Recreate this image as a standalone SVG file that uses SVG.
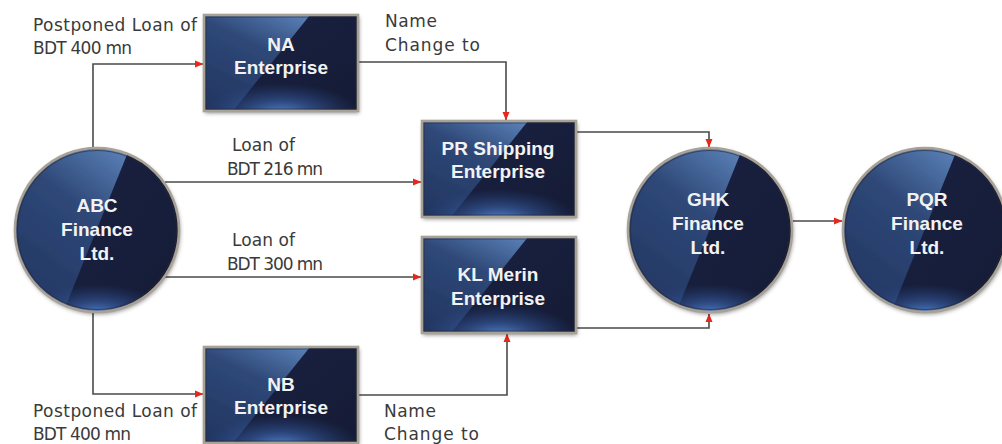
<svg xmlns="http://www.w3.org/2000/svg" xmlns:xlink="http://www.w3.org/1999/xlink" width="1002" height="444" viewBox="0 0 1002 444">
  <style>
    .lbl { font-family: "DejaVu Sans", "Liberation Sans", sans-serif; font-size: 17px; fill: #3a3a3a; }
    .nt { font-family: "Liberation Sans", Arial, sans-serif; font-weight: bold; font-size: 19px; fill: #f2f2f2; text-anchor: middle; }
    .wire { fill: none; stroke: #4a4a4a; stroke-width: 1.6; marker-end: url(#tip); }
    .rim { fill: none; stroke: #a8a196; stroke-width: 2.6; }
    .rim-in { fill: none; stroke: #2a2a30; stroke-width: 1; opacity: 0.6; }
  </style>
  <defs>
    <marker id="tip" markerUnits="userSpaceOnUse" markerWidth="9" markerHeight="8" refX="8" refY="4" orient="auto">
      <path d="M0,0.5 L8.5,4 L0,7.5 z" fill="#e8271a"/>
    </marker>
    <linearGradient id="lightFill" x1="0" y1="1" x2="0.75" y2="0">
      <stop offset="0" stop-color="#223460"/>
      <stop offset="0.6" stop-color="#2e4877"/>
      <stop offset="1" stop-color="#6088c0"/>
    </linearGradient>
    <linearGradient id="darkFill" x1="0" y1="0" x2="1" y2="1">
      <stop offset="0" stop-color="#1a2243"/>
      <stop offset="1" stop-color="#151b35"/>
    </linearGradient>
    <radialGradient id="glow" cx="0.5" cy="0.5" r="0.5">
      <stop offset="0" stop-color="#5a8fe2" stop-opacity="1"/>
      <stop offset="0.45" stop-color="#3a62a8" stop-opacity="0.6"/>
      <stop offset="1" stop-color="#2a4a8a" stop-opacity="0"/>
    </radialGradient>
    <filter id="shade" x="-15%" y="-15%" width="130%" height="135%">
      <feDropShadow dx="1" dy="2" stdDeviation="2" flood-color="#000" flood-opacity="0.45"/>
    </filter>
    <clipPath id="panelClip"><rect width="154" height="96"/></clipPath>
    <clipPath id="orbClip"><circle r="82"/></clipPath>

    <!-- rectangular enterprise panel, 154 x 96 -->
    <g id="panel">
      <g filter="url(#shade)">
        <rect width="154" height="96" fill="url(#lightFill)"/>
      </g>
      <g clip-path="url(#panelClip)">
        <polygon points="106,0 154,0 154,96 29,96" fill="url(#darkFill)"/>
        <ellipse cx="77" cy="100" rx="80" ry="32" fill="url(#glow)"/>
      </g>
      <rect x="2" y="2" width="150" height="92" class="rim-in"/>
      <rect width="154" height="96" class="rim"/>
    </g>

    <!-- round finance-company badge, centred on the origin -->
    <g id="orb">
      <g filter="url(#shade)">
        <circle r="82" fill="url(#lightFill)"/>
      </g>
      <g clip-path="url(#orbClip)">
        <polygon points="40,-100 95,-100 95,100 -41,100" fill="url(#darkFill)"/>
        <ellipse cx="0" cy="86" rx="70" ry="32" fill="url(#glow)"/>
      </g>
      <circle r="79.5" class="rim-in"/>
      <circle r="82" class="rim"/>
    </g>
  </defs>

  <rect width="1002" height="444" fill="#ffffff"/>

  <!-- connectors -->
  <g id="connectors">
    <path class="wire" d="M93,148 V64 H203"/>
    <path class="wire" d="M165,182 H421"/>
    <path class="wire" d="M165,277 H421"/>
    <path class="wire" d="M93,312 V394 H203"/>
    <path class="wire" d="M358,62 H506 V120"/>
    <path class="wire" d="M358,395 H507 V334"/>
    <path class="wire" d="M576,132 H709 V147"/>
    <path class="wire" d="M576,328 H709 V314"/>
    <path class="wire" d="M793,221 H842"/>
  </g>

  <!-- connector labels -->
  <g id="labels">
    <text class="lbl" x="33" y="31" textLength="164">Postponed Loan of</text>
    <text class="lbl" x="33" y="54" textLength="99">BDT 400 mn</text>
    <text class="lbl" x="385" y="27" textLength="52">Name</text>
    <text class="lbl" x="385" y="51" textLength="95">Change to</text>
    <text class="lbl" x="232" y="151" textLength="63">Loan of</text>
    <text class="lbl" x="227" y="175" textLength="96">BDT 216 mn</text>
    <text class="lbl" x="232" y="246" textLength="63">Loan of</text>
    <text class="lbl" x="227" y="270" textLength="96">BDT 300 mn</text>
    <text class="lbl" x="33" y="417" textLength="164">Postponed Loan of</text>
    <text class="lbl" x="33" y="440" textLength="98">BDT 400 mn</text>
    <text class="lbl" x="384" y="417" textLength="52">Name</text>
    <text class="lbl" x="384" y="440" textLength="95">Change to</text>
  </g>

  <!-- nodes -->
  <g id="abc-finance">
    <use xlink:href="#orb" x="97" y="230"/>
    <text class="nt" x="97" y="212">ABC</text>
    <text class="nt" x="97" y="236">Finance</text>
    <text class="nt" x="97" y="260">Ltd.</text>
  </g>

  <g id="na-enterprise">
    <use xlink:href="#panel" x="204" y="15"/>
    <text class="nt" x="281" y="51">NA</text>
    <text class="nt" x="281" y="74">Enterprise</text>
  </g>

  <g id="nb-enterprise">
    <use xlink:href="#panel" x="204" y="347"/>
    <text class="nt" x="281" y="391">NB</text>
    <text class="nt" x="281" y="414">Enterprise</text>
  </g>

  <g id="pr-shipping">
    <use xlink:href="#panel" x="422" y="121"/>
    <text class="nt" x="498" y="155">PR Shipping</text>
    <text class="nt" x="498" y="178">Enterprise</text>
  </g>

  <g id="kl-merin">
    <use xlink:href="#panel" x="422" y="237"/>
    <text class="nt" x="498" y="281">KL Merin</text>
    <text class="nt" x="498" y="305">Enterprise</text>
  </g>

  <g id="ghk-finance">
    <use xlink:href="#orb" x="710" y="230"/>
    <text class="nt" x="708" y="206">GHK</text>
    <text class="nt" x="708" y="230">Finance</text>
    <text class="nt" x="708" y="254">Ltd.</text>
  </g>

  <g id="pqr-finance">
    <use xlink:href="#orb" x="925" y="230"/>
    <text class="nt" x="927" y="206">PQR</text>
    <text class="nt" x="927" y="230">Finance</text>
    <text class="nt" x="927" y="254">Ltd.</text>
  </g>
</svg>
